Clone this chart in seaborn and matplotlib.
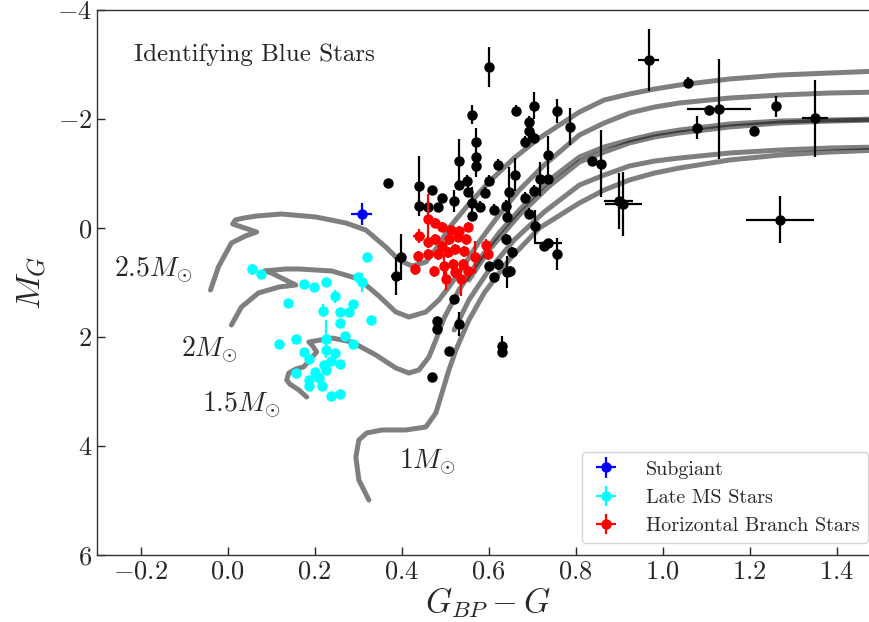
import numpy as np
import pandas as pd
import matplotlib
matplotlib.use("Agg")
import matplotlib.pyplot as plt
import seaborn as sns

# ---------------- data ----------------
# evolutionary tracks (colour, absolute G mag)
trk25_x = [-0.039, -0.021, 0.009, 0.041, 0.067, 0.012, 0.018, 0.037, 0.067, 0.124, 0.203, 0.272, 0.318,
           0.364, 0.394, 0.424, 0.456, 0.486, 0.509, 0.555, 0.601, 0.659, 0.717, 0.809, 0.866, 0.924, 0.982,
           1.039, 1.154, 1.270, 1.385, 1.500]
trk25_y = [1.138, 0.716, 0.275, 0.147, 0.073, -0.073, -0.147, -0.183, -0.220, -0.257, -0.202, -0.092, 0.037,
           0.349, 0.587, 0.697, 0.624, 0.312, 0.0, -0.440, -0.844, -1.284, -1.651, -2.128, -2.349, -2.459,
           -2.550, -2.624, -2.734, -2.807, -2.844, -2.881]

trk20_x = [0.009, 0.032, 0.071, 0.118, 0.157, 0.101, 0.085, 0.134, 0.164, 0.240, 0.302, 0.348, 0.387, 0.417,
           0.456, 0.486, 0.509, 0.544, 0.578, 0.624, 0.671, 0.728, 0.809, 0.866, 0.924, 0.982, 1.039, 1.154,
           1.270, 1.385, 1.500]
trk20_y = [1.780, 1.450, 1.193, 1.083, 1.046, 0.826, 0.789, 0.752, 0.752, 0.789, 0.936, 1.248, 1.541, 1.633,
           1.541, 1.321, 1.083, 0.679, 0.257, -0.239, -0.697, -1.156, -1.706, -1.927, -2.110, -2.220, -2.294,
           -2.385, -2.440, -2.477, -2.495]

trk15_x = [0.182, 0.164, 0.143, 0.136, 0.141, 0.157, 0.175, 0.205, 0.194, 0.187, 0.240, 0.286, 0.341, 0.387,
           0.417, 0.440, 0.463, 0.479, 0.498, 0.532, 0.578, 0.624, 0.671, 0.740, 0.809, 0.866, 0.924, 0.982,
           1.039, 1.154, 1.270, 1.385, 1.500]
trk15_y = [3.101, 2.972, 2.862, 2.789, 2.661, 2.587, 2.550, 2.275, 2.147, 2.092, 2.018, 2.092, 2.330, 2.569,
           2.661, 2.606, 2.367, 2.055, 1.651, 1.138, 0.587, 0.092, -0.330, -0.881, -1.303, -1.486, -1.615,
           -1.725, -1.798, -1.908, -1.963, -1.982, -2.000]

trk10_x = [0.325, 0.302, 0.295, 0.302, 0.320, 0.355, 0.410, 0.456, 0.479, 0.493, 0.509, 0.525, 0.555, 0.590,
           0.647, 0.717, 0.809, 0.866, 0.924, 0.982, 1.039, 1.154, 1.270, 1.385, 1.500]
trk10_y = [4.991, 4.624, 4.202, 3.890, 3.761, 3.706, 3.706, 3.651, 3.394, 3.028, 2.606, 2.239, 1.688, 1.193,
           0.587, 0.0, -0.459, -0.697, -0.881, -1.009, -1.101, -1.248, -1.339, -1.394, -1.431]

# later-phase branches that run alongside the giant branches
agb10_x = [0.521, 0.555, 0.601, 0.659, 0.728, 0.809, 0.866, 0.924, 0.982, 1.039, 1.154, 1.270, 1.385, 1.500]
agb10_y = [1.872, 1.321, 0.771, 0.220, -0.294, -0.789, -0.972, -1.138, -1.229, -1.284, -1.376, -1.431,
           -1.468, -1.486]
agb15_x = [0.555, 0.601, 0.671, 0.740, 0.809, 0.866, 0.924, 0.982, 1.039, 1.154, 1.270, 1.385, 1.500]
agb15_y = [0.954, 0.404, -0.239, -0.771, -1.211, -1.394, -1.560, -1.670, -1.743, -1.853, -1.927, -1.963,
           -1.982]

track_labels = [r"$2.5M_{\odot}$", r"$2M_{\odot}$", r"$1.5M_{\odot}$", r"$1M_{\odot}$"]
label_x = [-0.262, -0.107, -0.058, 0.395]
label_y = [0.76, 2.23, 3.24, 4.29]

# all stars (black)
blk_x = [0.369, 0.441, 0.441, 0.471, 0.462, 0.492, 0.483, 0.562, 0.571, 0.571, 0.571, 0.532, 0.532, 0.550,
         0.520, 0.553, 0.562, 0.562, 0.581, 0.592, 0.601, 0.622, 0.613, 0.664, 0.704, 0.694, 0.694, 0.683,
         0.704, 0.758, 0.788, 0.662, 0.648, 0.683, 0.704, 0.692, 0.707, 0.641, 0.643, 0.737, 0.719, 0.737,
         0.728, 0.737, 0.758, 0.655, 0.641, 0.643, 0.622, 0.601, 0.613, 0.399, 0.388, 0.520, 0.839, 0.859,
         0.899, 0.910, 0.601, 0.968, 1.058, 1.108, 1.130, 1.079, 1.210, 1.260, 1.350, 1.270, 0.481, 0.481,
         0.532, 0.509, 0.471, 0.632, 0.632, 0.650]
blk_y = [-0.829, -0.774, -0.405, -0.700, -0.387, -0.553, -0.387, -2.081, -1.584, -1.308, -1.142, -1.234,
         -0.792, -0.866, -0.497, -0.663, -0.461, -0.221, -0.387, -0.645, -0.866, -1.160, -0.332, -2.155,
         -2.247, -1.953, -1.787, -1.584, -1.658, -2.155, -1.860, -0.976, -0.663, -0.553, -0.682, -0.258,
         -0.037, -0.405, -0.203, -1.345, -0.903, -0.903, 0.332, 0.276, 0.479, 0.442, 0.203, 0.810, 0.663,
         0.700, 0.903, 0.534, 0.884, 1.308, -1.234, -1.18, -0.50, -0.44, -2.96, -3.08, -2.665, -2.17, -2.19,
         -1.84, -1.78, -2.23, -2.01, -0.15, 1.713, 1.860, 1.768, 2.266, 2.726, 2.174, 2.284, 0.792]
blk_xerr = [0, 0, 0, 0, 0, 0, 0, 0, 0, 0, 0, 0, 0, 0, 0, 0, 0, 0, 0, 0, 0, 0, 0, 0, 0, 0, 0, 0, 0, 0, 0, 0,
            0, 0, 0, 0, 0, 0, 0, 0, 0, 0, 0, 0.032, 0, 0, 0, 0, 0, 0, 0, 0, 0.012, 0, 0, 0, 0.033, 0.042, 0,
            0.025, 0, 0, 0.073, 0, 0, 0, 0.03, 0.079, 0, 0, 0, 0, 0, 0, 0, 0]
blk_yerr = [0.05, 0.55, 0.1, 0.05, 0.05, 0.05, 0.05, 0.18, 0.25, 0.1, 0.2, 0.4, 0.1, 0.1, 0.2, 0.1, 0.3,
            0.1, 0.1, 0.1, 0.1, 0.1, 0.1, 0.1, 0.24, 0.1, 0.15, 0.1, 0.1, 0.22, 0.34, 0.3, 0.45, 0.1, 0.1,
            0.1, 0.3, 0.1, 0.1, 0.34, 0.31, 0.1, 0.05, 0.05, 0.3, 0.1, 0.1, 0.3, 0.1, 0.05, 0.05, 0.42, 0.35,
            0.05, 0.05, 0.61, 0.51, 0.58, 0.37, 0.57, 0.1, 0.05, 0.92, 0.21, 0.1, 0.2, 0.70, 0.43, 0.05, 0.05,
            0.22, 0.05, 0.05, 0.2, 0.05, 0.1]

# subgiant
sg_x = [0.309]
sg_y = [-0.26]
sg_xerr = [0.024]
sg_yerr = [0.2]

# late main-sequence stars
ms_x = [0.056, 0.077, 0.320, 0.300, 0.310, 0.227, 0.176, 0.198, 0.138, 0.248, 0.258, 0.289, 0.219, 0.279,
        0.330, 0.258, 0.269, 0.289, 0.118, 0.157, 0.227, 0.227, 0.176, 0.246, 0.188, 0.238, 0.258, 0.221,
        0.227, 0.157, 0.200, 0.211, 0.188, 0.218, 0.188, 0.238, 0.258]
ms_y = [0.755, 0.847, 0.540, 0.908, 1.00, 0.989, 1.03, 1.09, 1.37, 1.25, 1.54, 1.40, 1.52, 1.55, 1.68, 1.75,
        1.98, 2.12, 2.12, 2.03, 2.04, 2.23, 2.28, 2.29, 2.41, 2.44, 2.49, 2.51, 2.61, 2.66, 2.65, 2.75, 2.78,
        2.89, 2.89, 3.09, 3.04]
ms_xerr = [0.008, 0.005, 0.005, 0.005, 0.005, 0.005, 0.005, 0.005, 0.005, 0.005, 0.005, 0.005, 0.005,
           0.005, 0.005, 0.005, 0.005, 0.005, 0.005, 0.005, 0.005, 0.005, 0.005, 0.005, 0.005, 0.005, 0.005,
           0.005, 0.005, 0.005, 0.005, 0.005, 0.005, 0.005, 0.005, 0.005, 0.005]
ms_yerr = [0.1, 0.04, 0.04, 0.04, 0.18, 0.04, 0.04, 0.04, 0.04, 0.12, 0.04, 0.04, 0.12, 0.04, 0.04, 0.04,
           0.04, 0.04, 0.04, 0.04, 0.35, 0.04, 0.04, 0.04, 0.04, 0.04, 0.04, 0.04, 0.04, 0.04, 0.04, 0.04,
           0.04, 0.04, 0.04, 0.04, 0.04]

# horizontal branch stars
hb_x = [0.462, 0.478, 0.492, 0.513, 0.532, 0.553, 0.441, 0.460, 0.476, 0.492, 0.509, 0.529, 0.548, 0.460,
        0.483, 0.506, 0.522, 0.543, 0.569, 0.594, 0.599, 0.439, 0.474, 0.497, 0.518, 0.541, 0.502, 0.536,
        0.522, 0.553, 0.432]
hb_y = [-0.166, -0.092, -0.018, 0.037, 0.055, -0.018, 0.147, 0.258, 0.203, 0.332, 0.203, 0.166, 0.203,
        0.479, 0.479, 0.442, 0.387, 0.424, 0.534, 0.313, 0.479, 0.516, 0.792, 0.700, 0.663, 0.663, 0.939,
        0.939, 0.810, 0.792, 0.755]
hb_xerr = [0, 0, 0, 0, 0, 0, 0.014, 0, 0, 0, 0, 0, 0, 0, 0, 0, 0, 0, 0, 0, 0, 0, 0, 0, 0, 0, 0, 0, 0, 0, 0]
hb_yerr = [0.45, 0.1, 0.1, 0.1, 0.1, 0.1, 0.12, 0.1, 0.1, 0.1, 0.1, 0.1, 0.1, 0.1, 0.1, 0.1, 0.1, 0.1, 0.3,
           0.12, 0.1, 0.1, 0.1, 0.2, 0.1, 0.1, 0.2, 0.3, 0.1, 0.1, 0.1]

# ---------------- style ----------------
sns.set_style("ticks")
plt.rcParams["font.family"] = ["cmr10"]
plt.rcParams["mathtext.fontset"] = "cm"
plt.rcParams["axes.formatter.use_mathtext"] = True
plt.rcParams["axes.unicode_minus"] = True

fig = plt.figure(figsize=(8.7, 6.22), dpi=100)
ax = fig.add_axes([97 / 870, 67 / 622, 783 / 870, 545 / 622])

track_sets = [(trk25_x, trk25_y), (trk20_x, trk20_y), (trk15_x, trk15_y), (trk10_x, trk10_y),
              (agb10_x, agb10_y), (agb15_x, agb15_y)]
for tx, ty in track_sets:
    df = pd.DataFrame({"c": tx, "m": ty})
    sns.lineplot(data=df, x="c", y="m", sort=False, estimator=None, ax=ax,
                 color="black", alpha=0.5, lw=3.6, zorder=1,
                 solid_joinstyle="round", solid_capstyle="round")

ax.errorbar(blk_x, blk_y, xerr=blk_xerr, yerr=blk_yerr, fmt="o", color="black", ms=6.5,
            elinewidth=1.6, capsize=0, zorder=3)
ax.errorbar(sg_x, sg_y, xerr=sg_xerr, yerr=sg_yerr, fmt="o", color="blue", ms=6.5,
            elinewidth=1.6, capsize=0, zorder=4, label="Subgiant")
ax.errorbar(ms_x, ms_y, xerr=ms_xerr, yerr=ms_yerr, fmt="o", color="cyan", ms=6.5,
            elinewidth=1.6, capsize=0, zorder=4, label="Late MS Stars")
ax.errorbar(hb_x, hb_y, xerr=hb_xerr, yerr=hb_yerr, fmt="o", color="red", ms=6.5,
            elinewidth=1.6, capsize=0, zorder=4, label="Horizontal Branch Stars")

for t, lx, ly in zip(track_labels, label_x, label_y):
    ax.text(lx, ly, t, fontsize=20, ha="left", va="center")

ax.text(-0.215, -3.17, "Identifying Blue Stars", fontsize=18, ha="left", va="center")

ax.set_xlim(-0.3, 1.5)
ax.set_ylim(6, -4)
ax.set_xticks([-0.2, 0.0, 0.2, 0.4, 0.6, 0.8, 1.0, 1.2, 1.4])
ax.set_yticks([-4, -2, 0, 2, 4, 6])
ax.tick_params(direction="in", length=6, width=1, labelsize=19, top=False, right=False)
ax.set_xlabel(r"$G_{BP} - G$", fontsize=24, labelpad=1)
ax.set_ylabel(r"$M_G$", fontsize=25, labelpad=6)
for s in ax.spines.values():
    s.set_linewidth(1.0)
    s.set_color("#333333")

leg = ax.legend(loc="lower right", fontsize=14.5, frameon=True, borderaxespad=0.6,
                handlelength=1.6, handletextpad=1.2)
leg.get_frame().set_edgecolor("#cccccc")

fig.savefig("out.png", dpi=100)
